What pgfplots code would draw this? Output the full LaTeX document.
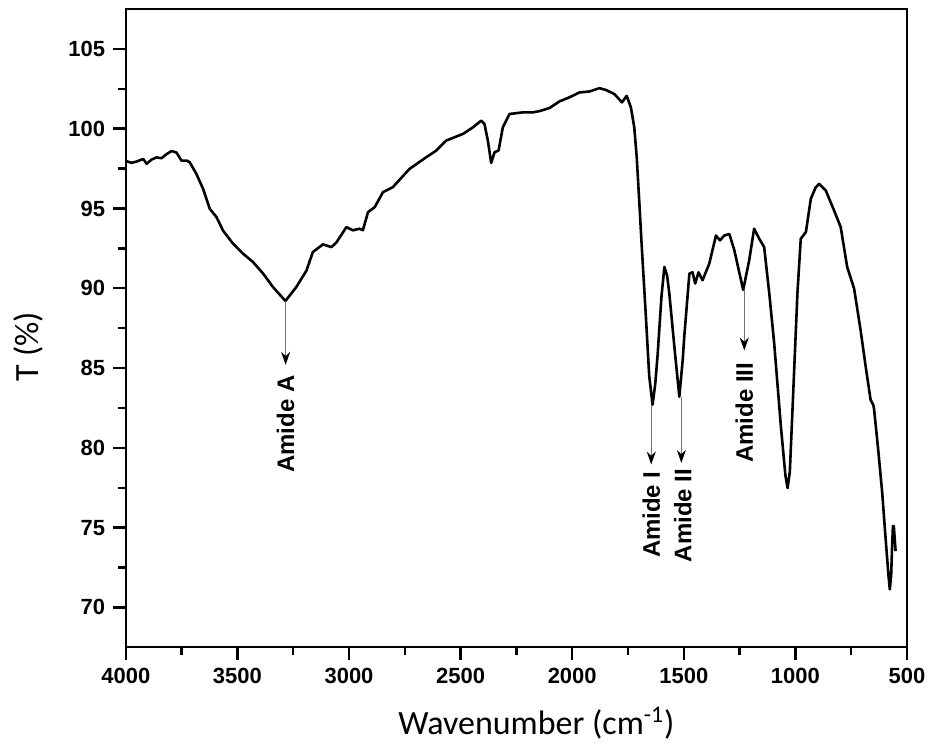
\documentclass[border=0pt]{standalone}
\usepackage{fontspec}
\setmainfont{Liberation Sans}
\newfontfamily\calibri{Carlito}
\usepackage{pgfplots}
\pgfplotsset{compat=1.18}
\usetikzlibrary{arrows.meta}

\begin{document}
\begin{tikzpicture}
\begin{axis}[name=ax, at={(0,0)}, anchor=south west,
  scale only axis, width=391pt, height=319.5pt,
  x dir=reverse, xmin=500, xmax=4000, ymin=67.5, ymax=107.5,
  xtick={500,1000,...,4000}, ytick={70,75,...,105},
  minor x tick num=1, minor y tick num=1,
  tick align=outside, tickpos=left,
  major tick length=6.5pt, minor tick length=4pt,
  line width=1.2pt,
  every tick/.style={line width=1.2pt, black},
  tick label style={font=\bfseries\fontsize{11}{13}\selectfont},
  /pgf/number format/assume math mode=true,
  /pgf/number format/1000 sep={},
  xlabel={Wavenumber (cm\textsuperscript{-1})},
  ylabel={T (\%)},
  every axis x label/.style={at={(axis description cs:0.5256,-0.119)}, anchor=center, font=\calibri\fontsize{17}{20}\selectfont},
  every axis y label/.style={at={(axis description cs:-0.1253,0.471)}, anchor=center, rotate=90, font=\calibri\fontsize{17}{20}\selectfont},
]
\addplot[black, line width=1.3pt, line join=round] coordinates {
(3997,97.96) (3975,97.86) (3952,97.94) (3922,98.10) (3907,97.80) (3885,98.06)
(3863,98.20) (3840,98.15) (3818,98.40) (3795,98.60) (3773,98.50) (3751,98.00)
(3728,98.00) (3714,97.90) (3684,97.17) (3654,96.23) (3624,94.98) (3594,94.46)
(3564,93.60) (3520,92.80) (3475,92.17) (3430,91.64) (3385,90.92) (3341,90.08)
(3285,89.20) (3236,90.08) (3191,91.10) (3162,92.27) (3117,92.75) (3079,92.58)
(3057,92.86) (3012,93.83) (2983,93.63) (2953,93.73) (2938,93.63) (2915,94.77)
(2885,95.08) (2848,96.02) (2804,96.33) (2729,97.48) (2654,98.21) (2609,98.63)
(2565,99.25) (2490,99.67) (2445,100.08) (2408,100.50) (2393,100.29) (2378,99.25)
(2363,97.85) (2348,98.52) (2330,98.63) (2311,100.08) (2281,100.92) (2222,101.02)
(2177,101.02) (2147,101.10) (2102,101.29) (2057,101.71) (2013,101.96) (1968,102.27)
(1923,102.33) (1878,102.54) (1848,102.42) (1811,102.17) (1777,101.65) (1756,102.06)
(1737,101.33) (1722,100.08) (1711,98.21) (1699,95.29) (1690,93.0) (1669,88.0)
(1655,84.5) (1640,82.7) (1628,84.0) (1617,85.9) (1600,89.5) (1587,91.33)
(1575,90.8) (1565,89.67) (1540,86.0) (1520,83.2) (1505,85.5) (1498,86.96)
(1475,90.92) (1461,91.00) (1449,90.30) (1434,91.00) (1416,90.50) (1386,91.54)
(1356,93.30) (1338,93.00) (1319,93.30) (1296,93.40) (1274,92.40) (1234,89.90)
(1207,91.75) (1185,93.73) (1162,93.10) (1140,92.58) (1117,89.67) (1095,86.54)
(1065,81.33) (1045,78.3) (1035,77.48) (1025,78.5) (1013,82.40) (991,89.67)
(976,93.10) (953,93.52) (931,95.60) (910,96.3) (894,96.54) (864,96.13)
(827,94.88) (797,93.83) (768,91.33) (737,89.98) (708,87.38) (685,85.08)
(663,83.00) (651,82.69) (648,82.48) (629,79.88) (611,77.17) (596,74.35)
(583,72.0) (577,71.13) (571,72.0) (567,73.73) (563,75.1) (559,75.08) (551,73.52)
};
\draw[black!55, line width=0.7pt, -{Stealth[black,length=6.5pt,width=4.5pt]}] (axis cs:3284,89.2) -- (axis cs:3284,85.2);
\node[rotate=90, anchor=east, inner sep=0pt, font=\bfseries\fontsize{12}{14}\selectfont] at (axis cs:3284,84.6) {Amide A};
\draw[black!55, line width=0.7pt, -{Stealth[black,length=6.5pt,width=4.5pt]}] (axis cs:1646,82.7) -- (axis cs:1646,78.95);
\node[rotate=90, anchor=east, inner sep=0pt, font=\bfseries\fontsize{12}{14}\selectfont] at (axis cs:1646,78.6) {Amide I};
\draw[black!55, line width=0.7pt, -{Stealth[black,length=6.5pt,width=4.5pt]}] (axis cs:1511,83.2) -- (axis cs:1511,79.05);
\node[rotate=90, anchor=east, inner sep=0pt, font=\bfseries\fontsize{12}{14}\selectfont] at (axis cs:1505,78.75) {Amide II};
\draw[black!55, line width=0.7pt, -{Stealth[black,length=6.5pt,width=4.5pt]}] (axis cs:1229,89.9) -- (axis cs:1229,86.1);
\node[rotate=90, anchor=east, inner sep=0pt, font=\bfseries\fontsize{12}{14}\selectfont] at (axis cs:1229,85.4) {Amide III};
\end{axis}
\path (ax.south west) ++(-63pt,-49pt) rectangle ++(466pt,373pt);
\end{tikzpicture}
\end{document}
